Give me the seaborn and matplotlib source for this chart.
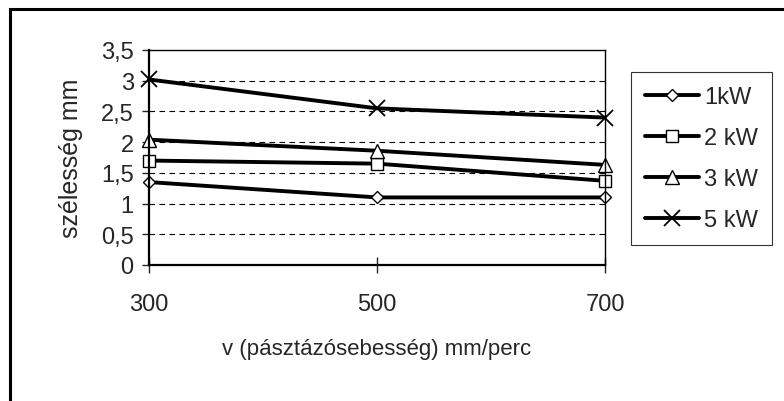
import pandas as pd
import seaborn as sns
import matplotlib.pyplot as plt
from matplotlib.patches import Rectangle

# values
speeds = [300, 500, 700]
p1kw = [1.35, 1.10, 1.10]
p2kw = [1.70, 1.65, 1.37]
p3kw = [2.04, 1.86, 1.63]
p5kw = [3.02, 2.55, 2.40]
series_names = ['1kW', '2 kW', '3 kW', '5 kW']
y_ticks = [0, 0.5, 1, 1.5, 2, 2.5, 3, 3.5]
y_tick_labels = ['0', '0,5', '1', '1,5', '2', '2,5', '3', '3,5']

rows = []
for name, vals in zip(series_names, [p1kw, p2kw, p3kw, p5kw]):
    for v, w in zip(speeds, vals):
        rows.append({'v': v, 'width': w, 'series': name})
data = pd.DataFrame(rows)

sns.set_style('white')
plt.rcParams['font.family'] = ['Liberation Sans', 'DejaVu Sans']

fig = plt.figure(figsize=(7.84, 4.02), dpi=100)
ax = fig.add_axes([149 / 784, 1 - 266 / 402, (605 - 149) / 784, (266 - 51) / 402])

# outer frame (right and bottom edges fall outside the image)
fig.patches.append(Rectangle((10 / 784, -0.05), 1.1, 1 - 10 / 402 + 0.05,
                             transform=fig.transFigure, fill=False,
                             edgecolor='black', linewidth=2.2))

markers = {'1kW': 'D', '2 kW': 's', '3 kW': '^', '5 kW': 'x'}
sizes = {'1kW': 6.5, '2 kW': 8.5, '3 kW': 10, '5 kW': 11}

for name in series_names:
    sub = data[data['series'] == name]
    sns.lineplot(data=sub, x='v', y='width', color='black', linewidth=2.8,
                 marker=markers[name], markersize=sizes[name],
                 markerfacecolor='white', markeredgecolor='black',
                 markeredgewidth=1.0 if name != '5 kW' else 1.3,
                 label=name, ax=ax, clip_on=False)

ax.set_xlim(300, 700)
ax.set_ylim(0, 3.5)
ax.set_xticks(speeds)
ax.set_xticklabels([str(s) for s in speeds])
ax.set_yticks(y_ticks)
ax.set_yticklabels(y_tick_labels)
ax.tick_params(axis='x', direction='inout', length=11, width=1, pad=15, labelsize=17, bottom=True)
ax.tick_params(axis='y', direction='out', length=5, width=1, pad=6, labelsize=17, left=True)

for y in y_ticks[1:-1]:
    ax.axhline(y, color='black', linestyle=(0, (5, 4)), linewidth=0.8, zorder=0)

for s in ax.spines.values():
    s.set_color('black')
    s.set_linewidth(1.0)
ax.spines['left'].set_linewidth(1.6)
ax.spines['bottom'].set_linewidth(1.6)

ax.set_xlabel('v (pásztázósebesség) mm/perc', fontsize=16, labelpad=16)
ax.set_ylabel('szélesség mm', fontsize=18, va='center')
ax.yaxis.set_label_coords((71 - 149) / 456, 0.5)

leg = ax.legend(loc='upper left', bbox_to_anchor=(631 / 784, 1 - 73 / 402),
                bbox_transform=fig.transFigure, fontsize=17, frameon=True,
                fancybox=False, shadow=False, handlelength=2.3, handletextpad=0.2,
                labelspacing=0.8, borderpad=0.6, borderaxespad=0)
leg.get_frame().set_edgecolor('black')
leg.get_frame().set_linewidth(0.8)

fig.savefig('out.png', dpi=100)
plt.close()
